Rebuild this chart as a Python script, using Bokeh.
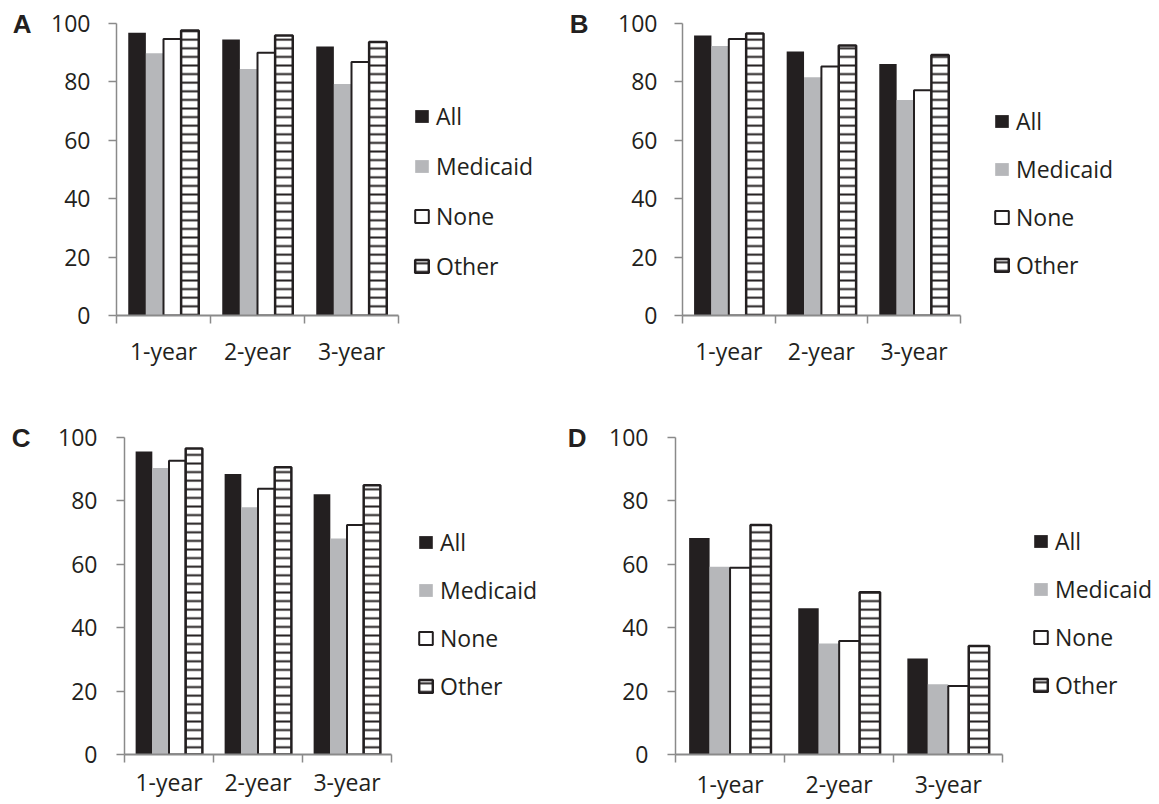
import numpy as np
from bokeh.plotting import figure
from bokeh.models import (Range1d, FixedTicker, Legend, LegendItem, LinearAxis,
                          ColumnDataSource, GlobalInlineStyleSheet)
from bokeh.layouts import row, column
from bokeh.embed import file_html
from bokeh.resources import INLINE

PERIODS = ["1-year", "2-year", "3-year"]
SERIES = ["All", "Medicaid", "None", "Other"]

A_ALL = [96.8, 94.5, 92.1]
A_MEDICAID = [89.8, 84.4, 79.3]
A_NONE = [94.7, 90.0, 86.8]
A_OTHER = [97.6, 95.9, 93.7]

B_ALL = [95.9, 90.4, 86.1]
B_MEDICAID = [92.3, 81.6, 73.8]
B_NONE = [94.7, 85.3, 77.1]
B_OTHER = [96.6, 92.5, 89.2]

C_ALL = [95.6, 88.5, 82.1]
C_MEDICAID = [90.4, 78.0, 68.1]
C_NONE = [92.7, 83.8, 72.4]
C_OTHER = [96.5, 90.6, 84.9]

D_ALL = [68.3, 46.1, 30.3]
D_MEDICAID = [59.2, 35.0, 22.2]
D_NONE = [58.9, 35.8, 21.6]
D_OTHER = [72.4, 51.2, 34.2]

Y_TICKS = [0, 20, 40, 60, 80, 100]

INK = "#231f20"
GREY = "#b6b7ba"
AXIS = "#8a8a8a"
FONT = "Open Sans"
FSIZE = "23px"

STYLES = {
    "All": dict(fill_color=INK, line_color=None),
    "Medicaid": dict(fill_color=GREY, line_color=None),
    "None": dict(fill_color="white", line_color=INK, line_width=2),
    "Other": dict(fill_color="white", line_color=INK, line_width=2.5,
                  hatch_pattern="horizontal_line", hatch_color=INK,
                  hatch_weight=2, hatch_scale=8.6),
}


def make_panel(letter, values, width, height, left, top, axis_w, frame_h, right,
               y_standoff, x_standoff, legend_xy, legend_spacing, letter_standoff):
    bottom = height - top - frame_h
    frame_w = width - left - right
    ncat = len(PERIODS)
    x_end = ncat * frame_w / axis_w  # room on the right of the axis for the legend
    p = figure(width=width, height=height,
               x_range=Range1d(0, x_end), y_range=Range1d(0, 100),
               output_backend="svg", toolbar_location=None,
               min_border_left=left, min_border_right=right,
               min_border_top=top, min_border_bottom=bottom)
    p.outline_line_color = None
    p.xgrid.visible = False
    p.ygrid.visible = False

    n = len(SERIES)
    bw = 0.75 / n
    centers = np.arange(ncat) + 0.5
    items = []
    for k, (name, vals) in enumerate(zip(SERIES, values)):
        xs = centers + (k - (n - 1) / 2) * bw
        src = ColumnDataSource(dict(x=xs, top=vals))
        r = p.vbar(x="x", top="top", bottom=0, width=bw, source=src, **STYLES[name])
        items.append(LegendItem(label=name, renderers=[r]))

    xa = p.xaxis[0]
    xa.bounds = (0, ncat)
    xa.ticker = FixedTicker(ticks=[float(c) for c in centers],
                            minor_ticks=list(range(ncat + 1)))
    xa.major_label_overrides = {float(c): lab for c, lab in zip(centers, PERIODS)}
    xa.major_tick_out = 0
    xa.major_tick_in = 0
    xa.minor_tick_out = 8
    xa.minor_tick_in = 0
    xa.minor_tick_line_color = AXIS
    xa.minor_tick_line_width = 1.5
    xa.axis_line_color = AXIS
    xa.axis_line_width = 2
    xa.major_label_standoff = x_standoff
    xa.major_label_text_font = FONT
    xa.major_label_text_font_size = FSIZE
    xa.major_label_text_color = INK

    ya = p.yaxis[0]
    ya.ticker = FixedTicker(ticks=Y_TICKS, minor_ticks=[])
    ya.major_tick_out = 8
    ya.major_tick_in = 0
    ya.major_tick_line_color = AXIS
    ya.major_tick_line_width = 1.3
    ya.minor_tick_out = 0
    ya.minor_tick_in = 0
    ya.axis_line_color = AXIS
    ya.axis_line_width = 1.5
    ya.major_label_standoff = y_standoff
    ya.major_label_text_font = FONT
    ya.major_label_text_font_size = FSIZE
    ya.major_label_text_color = INK

    # panel letter, level with the top of the value axis
    la = LinearAxis(ticker=FixedTicker(ticks=[100], minor_ticks=[]),
                    major_label_overrides={100: letter},
                    axis_line_color=None, major_tick_line_color=None,
                    minor_tick_line_color=None, major_tick_out=0, major_tick_in=0,
                    major_label_standoff=letter_standoff,
                    major_label_text_font="Liberation Sans",
                    major_label_text_font_style="bold",
                    major_label_text_font_size="26px",
                    major_label_text_color=INK)
    p.add_layout(la, "left")

    legend = Legend(items=items, location=(axis_w + legend_xy[0], legend_xy[1]),
                    orientation="vertical",
                    glyph_width=17, glyph_height=16, label_standoff=6,
                    spacing=legend_spacing, label_height=34, padding=0, margin=0,
                    border_line_color=None, background_fill_alpha=0,
                    label_text_font=FONT, label_text_font_size=FSIZE,
                    label_text_color=INK)
    p.add_layout(legend, "center")
    return p


pA = make_panel("A", [A_ALL, A_MEDICAID, A_NONE, A_OTHER], 566, 398, 116, 23, 282, 292, 10,
                18, 11, (15, 32), 16, 17)
pB = make_panel("B", [B_ALL, B_MEDICAID, B_NONE, B_OTHER], 593, 398, 114, 22, 279, 295, 10,
                17, 11, (32, 33), 14, 27)
pC = make_panel("C", [C_ALL, C_MEDICAID, C_NONE, C_OTHER], 564, 406, 124, 39, 267, 319, 10,
                19, 3, (26, 51), 14, 25)
pD = make_panel("D", [D_ALL, D_MEDICAID, D_NONE, D_OTHER], 595, 406, 110, 38, 328, 318, 2,
                19, 5, (29, 52), 14, 20)

layout = column(row(pA, pB), row(pC, pD),
                stylesheets=[GlobalInlineStyleSheet(css="html, body { overflow: hidden; }")])

open("out.html", "w").write(file_html(layout, INLINE))
